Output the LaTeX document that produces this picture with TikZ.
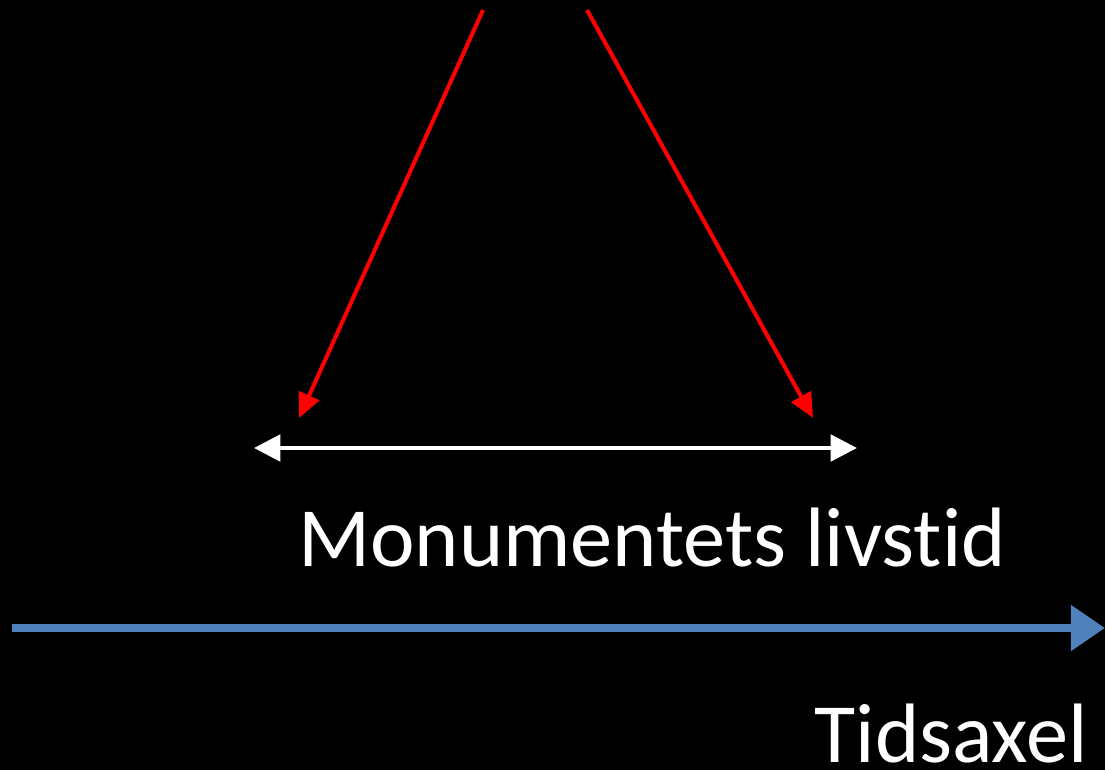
\documentclass[tikz,border=0pt]{standalone}
\usepackage{fontspec}
\setmainfont[Ligatures=NoCommon]{Carlito}
\usetikzlibrary{arrows.meta,positioning}
\definecolor{tlRed}{RGB}{255,0,0}
\definecolor{tlBlue}{RGB}{79,129,189}
\definecolor{tlBack}{RGB}{0,0,0}
\tikzset{
    lbl/.style={text=white, inner sep=0pt, font=\fontsize{48}{56}\selectfont},
    pointer/.style={tlRed, line width=2.3pt, -{Triangle[length=14pt,width=12.5pt]}},
    span/.style={white, line width=2.4pt, {Triangle[length=15pt,width=15pt]}-{Triangle[length=15pt,width=15pt]}},
    axis/.style={tlBlue, line width=5.1pt, -{Triangle[length=19.4pt,width=25pt]}}
}
\begin{document}
\begin{tikzpicture}[x=0.02cm,y=-0.02cm]
    \fill[tlBack] (0,0) rectangle (1105,770);
    \useasboundingbox (0,0) rectangle (1105,770);

    % lifetime span
    \coordinate (startTop) at (483,10);
    \coordinate (endTop) at (587,10);
    \coordinate (startPt) at (299,418);
    \coordinate (endPt) at (813,418);
    \coordinate (spanL) at (254,448);
    \coordinate (spanR) at (857,448);
    \draw[pointer] (startTop) -- (startPt);
    \draw[pointer] (endTop) -- (endPt);
    \draw[span] (spanL) -- (spanR);
    \node[lbl, anchor=base west] (life) at (298,566) {Monumentets livstid};

    % time axis
    \coordinate (axisL) at (12,628);
    \coordinate (axisR) at (1105,628);
    \draw[axis] (axisL) -- (axisR);
    \node[lbl, anchor=base east] (time) at (1088,762) {Tidsaxel};
\end{tikzpicture}
\end{document}
